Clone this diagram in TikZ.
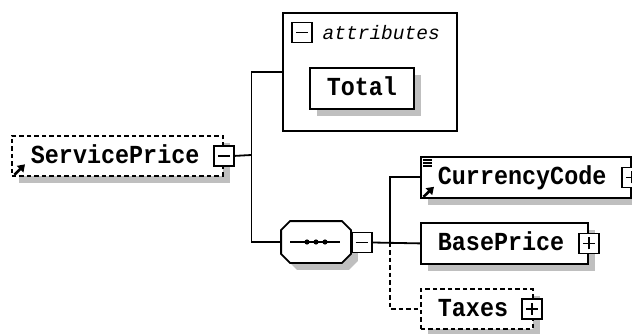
\documentclass[tikz,border=0pt]{standalone}
\usepackage{fontspec}
\newfontfamily\elfont{Liberation Mono}[FakeStretch=0.9]
\newfontfamily\attfontfam{Liberation Mono}
\usetikzlibrary{shadows,arrows.meta}
\begin{document}
\begin{tikzpicture}[x=1pt,y=1pt,line width=1.8pt,
  shadowc/.style={fill=black!25},
  elem/.style={draw, fill=white, anchor=north west, inner ysep=0pt, align=left,
    text height=15pt, text depth=0pt,
    font=\fontsize{26}{26}\selectfont\elfont\bfseries,
    drop shadow={shadow xshift=7pt,shadow yshift=-7pt,fill=black!25,opacity=1}},
  optional/.style={dash pattern=on 4.5pt off 3pt},
  pmbox/.style={draw, fill=white, minimum size=20pt, inner sep=0pt, line width=1.6pt},
  pmminus/.style={pmbox, path picture={\draw[line width=1.6pt]
      ([xshift=-6pt]path picture bounding box.center) -- ([xshift=6pt]path picture bounding box.center);}},
  pmplus/.style={pmbox, path picture={\draw[line width=1.6pt]
      ([xshift=-6pt]path picture bounding box.center) -- ([xshift=6pt]path picture bounding box.center)
      ([yshift=-6pt]path picture bounding box.center) -- ([yshift=6pt]path picture bounding box.center);}},
  refarrow/.style={line width=2.6pt, -{Triangle[length=7pt,width=9pt]}},
  iconline/.style={line width=1.2pt}
]
\useasboundingbox (0,0) rectangle (632,-334);

% ServicePrice
\node[elem, optional, minimum width=211pt, minimum height=40pt, inner xsep=19pt, text width=173pt] (sp) at (11,-135) {ServicePrice};
\draw[refarrow] ([shift={(3.5,2)}]sp.south west) -- ([shift={(14,12.5)}]sp.south west);
\node[pmminus] (spm) at (sp.east) {};

% attributes
\node[draw, anchor=north west, minimum width=174pt, minimum height=118pt, inner sep=0pt] (attr) at (282,-12) {};
\node[pmminus] (attm) at ([shift={(20,-20.5)}]attr.north west) {};
\node[anchor=west, inner sep=0pt, font=\fontsize{19.5}{19.5}\selectfont\attfontfam\itshape] (attl) at ([xshift=9pt]attm.east) {attributes};
\node[elem, minimum width=104pt, minimum height=41pt, inner xsep=10pt, text width=84pt, align=center] (total) at (309,-67) {Total};

% sequence compositor
\node[minimum width=68pt, minimum height=40pt, inner sep=0pt] (seq) at (316,-242) {};
\fill[shadowc, transform canvas={shift={(7pt,-7pt)}}]
  ([yshift=-9pt]seq.north west) -- ([xshift=9pt]seq.north west) -- ([xshift=-9pt]seq.north east) -- ([yshift=-9pt]seq.north east)
  -- ([yshift=9pt]seq.south east) -- ([xshift=-9pt]seq.south east) -- ([xshift=9pt]seq.south west) -- ([yshift=9pt]seq.south west) -- cycle;
\draw[fill=white]
  ([yshift=-9pt]seq.north west) -- ([xshift=9pt]seq.north west) -- ([xshift=-9pt]seq.north east) -- ([yshift=-9pt]seq.north east)
  -- ([yshift=9pt]seq.south east) -- ([xshift=-9pt]seq.south east) -- ([xshift=9pt]seq.south west) -- ([yshift=9pt]seq.south west) -- cycle;
\draw[line width=1.5pt] ([xshift=-26pt]seq.center) -- ([xshift=24pt]seq.center);
\fill ([xshift=-9pt]seq.center) circle (2.6pt) (seq.center) circle (2.6pt) ([xshift=9pt]seq.center) circle (2.6pt);
\node[pmminus, anchor=west] (sqm) at ([yshift=-0.5pt]seq.east) {};

% children
\node[elem, minimum width=210pt, minimum height=41pt, inner xsep=17pt, text width=176pt] (cc) at (420,-156) {CurrencyCode};
\draw[iconline] ([shift={(3,-4)}]cc.north west) -- ([shift={(12,-4)}]cc.north west)
                ([shift={(3,-7)}]cc.north west) -- ([shift={(12,-7)}]cc.north west)
                ([shift={(3,-10)}]cc.north west) -- ([shift={(12,-10)}]cc.north west);
\draw[refarrow] ([shift={(3.5,2)}]cc.south west) -- ([shift={(14,12)}]cc.south west);
\node[pmplus] (ccp) at (cc.east) {};

\node[elem, minimum width=167pt, minimum height=41pt, inner xsep=17pt, text width=133pt] (bp) at (420,-222) {BasePrice};
\node[pmplus] (bpp) at (bp.east) {};

\node[elem, optional, minimum width=112pt, minimum height=40pt, inner xsep=17pt, text width=78pt] (tx) at (420,-288) {Taxes};
\node[pmplus] (txp) at ([xshift=-2pt]tx.east) {};

% connectors
\coordinate (tA) at (251.5,-155);
\coordinate (tB) at (390,-242.5);
\draw (spm.east) -- (tA);
\draw (attr.west) -| (tA) |- (seq.west);
\draw (sqm.east) -- (bp.west);
\draw (cc.west) -| (tB);
\draw[optional] (tB) |- (tx.west);
\end{tikzpicture}
\end{document}
